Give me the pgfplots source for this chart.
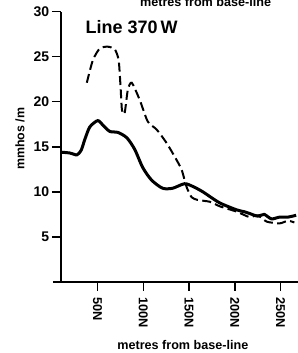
\documentclass[border=0pt]{standalone}
\usepackage{fontspec}
\setmainfont{Liberation Sans}[BoldFont={Liberation Sans Bold}]
\usepackage{pgfplots}
\pgfplotsset{compat=1.18}
\begin{document}
\begin{tikzpicture}[font=\bfseries]
\begin{axis}[
  at={(0,0)}, anchor=south west,
  scale only axis, width=118.5pt, height=135.25pt,
  xmin=10, xmax=269, ymin=0, ymax=30,
  axis lines*=left,
  axis line style={line width=1pt},
  tick align=outside, major tick length=4.5pt,
  tick style={line width=0.8pt, black},
  xtick={50,100,150,200,250},
  xticklabels={50N,100N,150N,200N,250N},
  ytick={5,10,15,20,25,30},
  /pgf/number format/assume math mode=true,
  xticklabel style={rotate=-90, anchor=west, font=\bfseries\fontsize{6.4}{8}\selectfont, inner sep=0pt, xshift=3pt},
  yticklabel style={font=\bfseries\fontsize{7}{8}\selectfont, inner sep=0pt, xshift=-1.2pt},
  xlabel={metres from base-line},
  every axis x label/.style={at={(rel axis cs:0.514,0)}, anchor=base, yshift=-34pt, font=\bfseries\fontsize{6.3}{8}\selectfont},
  ylabel={mmhos /m},
  every axis y label/.style={at={([xshift=-20.5pt]rel axis cs:0,0.529)}, rotate=90, anchor=center, font=\bfseries\fontsize{6.2}{8}\selectfont},
  clip=false,
]
\addplot[black, line width=1.5pt, smooth, tension=0.45] coordinates {
(10,14.4) (20,14.3) (27.3,14.1) (32,14.6) (36,15.8) (41.5,17.2) (50.2,17.9)
(55.7,17.4) (63.3,16.7) (72,16.6) (81.9,16.0) (90.6,14.7) (99.3,12.7)
(109,11.3) (121,10.4) (132,10.4) (145,10.9) (154,10.6) (165,10.0)
(183,8.8) (202,8.0) (210,7.8) (216,7.6) (225,7.3) (232,7.5) (240,7.0)
(249,7.2) (258,7.2) (267,7.4)
};
\addplot[black, line width=1pt, dash pattern=on 4.5pt off 2.2pt, smooth, tension=0.4] coordinates {
(38.2,22.1) (44.8,24.6) (52.4,25.9) (61.1,26.1) (68.8,25.8) (73,24.6)
(75,21.8) (76.6,19.1) (79.5,18.7) (83,21.3) (87.3,22.1) (96,20.2)
(104.8,17.8) (114.6,16.9) (125.5,15.4) (136.5,13.5) (142,12.4) (147.4,10.5)
(152.8,9.4) (159.4,9.1) (172.5,8.9) (183.4,8.4) (202,7.8) (216,7.2)
(225,7.4) (234.7,6.7) (249,6.5) (258,6.8) (265,6.6)
};
\draw[line width=1pt] (axis cs:1,0) -- (axis cs:10,0);
\node[anchor=base west, inner sep=0pt, font=\bfseries\fontsize{9}{11}\selectfont] at (axis cs:36.5,27.6) {Line 370\,W};
\node[anchor=base, font=\bfseries\fontsize{6.3}{8}\selectfont] at (axis cs:168,30.6) {metres from base-line};
\end{axis}
\pgfresetboundingbox
\useasboundingbox (-30.5pt,-35.5pt) rectangle (118.5pt,141pt);
\end{tikzpicture}
\end{document}
